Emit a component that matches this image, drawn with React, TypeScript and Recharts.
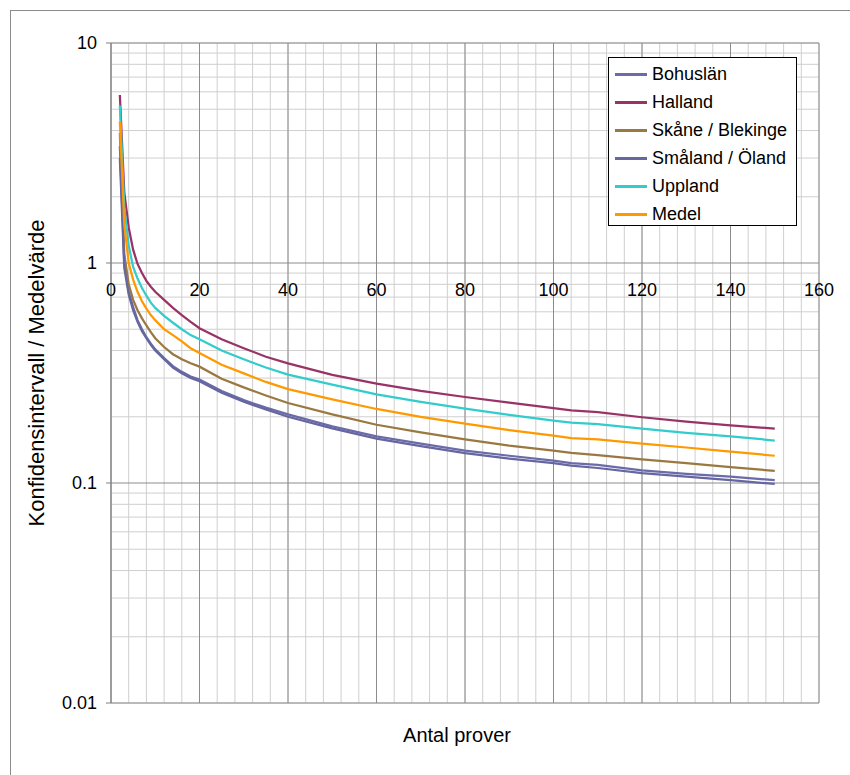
import React from "react";
import {
  LineChart,
  Line,
  XAxis,
  YAxis,
  CartesianGrid,
  ReferenceDot
} from "recharts";

// antal prover (x) och avläsningar per region
const sampleSizes = [2, 3, 4, 5, 6, 7, 8, 9, 10, 12, 14, 16, 18, 20, 25, 30, 35, 40, 50, 60, 70, 80, 90, 100, 104, 110, 120, 130, 140, 150];

const bohuslan = [3.4, 1.0, 0.74, 0.63, 0.55, 0.5, 0.46, 0.43, 0.405, 0.37, 0.34, 0.32, 0.305, 0.295, 0.262, 0.238, 0.22, 0.205, 0.181, 0.163, 0.151, 0.1405, 0.133, 0.1265, 0.123, 0.121, 0.114, 0.11, 0.107, 0.103];
const halland = [5.8, 2.1, 1.45, 1.15, 0.99, 0.9, 0.83, 0.78, 0.74, 0.68, 0.625, 0.58, 0.54, 0.505, 0.45, 0.41, 0.375, 0.35, 0.31, 0.283, 0.262, 0.246, 0.232, 0.219, 0.214, 0.21, 0.199, 0.19, 0.183, 0.1765];
const skane = [3.9, 1.1, 0.8, 0.68, 0.61, 0.56, 0.52, 0.485, 0.455, 0.415, 0.385, 0.365, 0.35, 0.338, 0.298, 0.272, 0.25, 0.231, 0.205, 0.184, 0.17, 0.158, 0.148, 0.1405, 0.137, 0.134, 0.128, 0.123, 0.118, 0.1136];
const smaland = [3.0, 0.95, 0.72, 0.61, 0.54, 0.49, 0.455, 0.425, 0.4, 0.365, 0.335, 0.315, 0.3, 0.29, 0.257, 0.234, 0.216, 0.2, 0.177, 0.159, 0.147, 0.1367, 0.129, 0.123, 0.12, 0.117, 0.111, 0.107, 0.103, 0.099];
const uppland = [5.2, 1.8, 1.2, 0.96, 0.85, 0.77, 0.71, 0.66, 0.625, 0.575, 0.535, 0.5, 0.47, 0.45, 0.4, 0.365, 0.335, 0.311, 0.28, 0.253, 0.234, 0.218, 0.204, 0.192, 0.188, 0.185, 0.1765, 0.169, 0.163, 0.156];
const medel = [4.4, 1.5, 1.0, 0.84, 0.74, 0.67, 0.62, 0.58, 0.55, 0.5, 0.47, 0.44, 0.41, 0.39, 0.345, 0.315, 0.288, 0.267, 0.24, 0.217, 0.2, 0.186, 0.174, 0.164, 0.16, 0.158, 0.151, 0.145, 0.139, 0.133];

// axlar och rutnät
const xMajorTicks = [0, 20, 40, 60, 80, 100, 120, 140, 160];
const xMinorTicks = [0, 4, 8, 12, 16, 20, 24, 28, 32, 36, 40, 44, 48, 52, 56, 60, 64, 68, 72, 76, 80, 84, 88, 92, 96, 100, 104, 108, 112, 116, 120, 124, 128, 132, 136, 140, 144, 148, 152, 156, 160];
const yMajorTicks = [0.01, 0.1, 1, 10];
const yMinorTicks = [
  0.02, 0.03, 0.04, 0.05, 0.06, 0.07, 0.08, 0.09,
  0.2, 0.3, 0.4, 0.5, 0.6, 0.7, 0.8, 0.9,
  2, 3, 4, 5, 6, 7, 8, 9
];

const series = [
  { name: "Bohuslän", values: bohuslan, color: "#6b6ba9" },
  { name: "Halland", values: halland, color: "#993366" },
  { name: "Skåne / Blekinge", values: skane, color: "#9a7841" },
  { name: "Småland / Öland", values: smaland, color: "#6666a0" },
  { name: "Uppland", values: uppland, color: "#33cccc" },
  { name: "Medel", values: medel, color: "#ff9900" }
];

const chartData = sampleSizes.map((n, i) => {
  const row: any = { n };
  series.forEach(s => {
    row[s.name] = s.values[i];
  });
  return row;
});

const FONT = '"Liberation Sans", Arial, sans-serif';

export default function App() {
  return (
    <div
      style={{
        position: "fixed",
        left: 0,
        top: 0,
        width: 850,
        height: 775,
        overflow: "hidden",
        background: "#fff",
        fontFamily: FONT
      }}
    >
      {/* yttre ram */}
      <div
        style={{
          position: "absolute",
          left: 10,
          top: 10,
          width: 900,
          height: 900,
          borderLeft: "1px solid #8c8c8c",
          borderTop: "1px solid #8c8c8c"
        }}
      />

      <div style={{ position: "absolute", left: 0, top: 0 }}>
        <LineChart
          width={850}
          height={775}
          data={chartData}
          margin={{ top: 43, right: 31, bottom: 72, left: 51 }}
        >
          <XAxis xAxisId="minor" type="number" dataKey="n" domain={[0, 160]} ticks={xMinorTicks} interval={0} hide />
          <XAxis xAxisId="major" type="number" dataKey="n" domain={[0, 160]} ticks={xMajorTicks} interval={0} hide />
          <YAxis
            yAxisId="minor"
            type="number"
            scale="log"
            domain={[0.01, 10]}
            ticks={yMinorTicks}
            interval={0}
            allowDataOverflow
            hide
          />
          <YAxis
            yAxisId="major"
            type="number"
            scale="log"
            domain={[0.01, 10]}
            ticks={yMajorTicks}
            interval={0}
            allowDataOverflow
            width={60}
            tickSize={5}
            tickMargin={9}
            axisLine={{ stroke: "#808080" }}
            tickLine={{ stroke: "#808080" }}
            tick={{ fontSize: 18, fill: "#000", fontFamily: FONT }}
          />

          <CartesianGrid xAxisId="minor" yAxisId="minor" stroke="#cfcfcf" />
          <CartesianGrid xAxisId="major" yAxisId="major" stroke="#8c8c8c" />

          {series.map(s => (
            <Line
              key={s.name}
              xAxisId="major"
              yAxisId="major"
              type="linear"
              dataKey={s.name}
              stroke={s.color}
              strokeWidth={2.25}
              dot={false}
              activeDot={false}
              isAnimationActive={false}
            />
          ))}

          {/* x-axelns etiketter sitter vid y = 1 */}
          {xMajorTicks.map(t => (
            <ReferenceDot
              key={t}
              xAxisId="major"
              yAxisId="major"
              x={t}
              y={1}
              r={0.01}
              fill="none"
              stroke="none"
              label={{
                value: String(t),
                position: "bottom",
                offset: 20,
                fontSize: 18,
                fill: "#000",
                fontFamily: FONT
              }}
            />
          ))}
        </LineChart>
      </div>

      {/* förklaring */}
      <div
        style={{
          position: "absolute",
          left: 608,
          top: 57,
          width: 187,
          height: 167,
          border: "1px solid #000",
          background: "#fff"
        }}
      >
        {series.map((s, i) => (
          <div
            key={s.name}
            style={{
              position: "absolute",
              left: 6,
              top: 4 + i * 28,
              height: 24,
              display: "flex",
              alignItems: "center",
              whiteSpace: "nowrap"
            }}
          >
            <div style={{ width: 32, height: 3, background: s.color, marginRight: 5 }} />
            <span style={{ fontSize: 18, color: "#000" }}>{s.name}</span>
          </div>
        ))}
      </div>

      {/* axeltitlar */}
      <div
        style={{
          position: "absolute",
          left: 357,
          top: 724,
          width: 200,
          textAlign: "center",
          fontSize: 20,
          color: "#000"
        }}
      >
        Antal prover
      </div>
      <div
        style={{
          position: "absolute",
          left: 37,
          top: 373,
          transform: "translate(-50%, -50%) rotate(-90deg)",
          whiteSpace: "nowrap",
          fontSize: 22,
          color: "#000"
        }}
      >
        Konfidensintervall / Medelvärde
      </div>
    </div>
  );
}
